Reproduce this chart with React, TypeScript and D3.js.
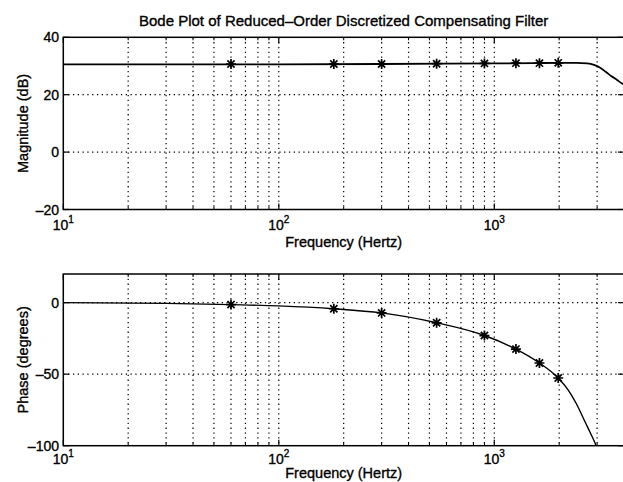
import React from 'react';
import * as d3 from 'd3';

const titleText = 'Bode Plot of Reduced–Order Discretized Compensating Filter';
const xLabelText = 'Frequency (Hertz)';
const magLabelText = 'Magnitude (dB)';
const phaseLabelText = 'Phase (degrees)';

const xDomain = [10, 4000];
const xMajorTicks = [10, 100, 1000];
const xTickExponents = ['1', '2', '3'];
const xMinorTicks = [20, 30, 40, 50, 60, 70, 80, 90, 200, 300, 400, 500, 600, 700, 800, 900, 2000, 3000];

const magDomain = [-20, 40];
const magTicks = [-20, 0, 20, 40];
const phaseDomain = [-100, 20];
const phaseTicks = [-100, -50, 0];

const magFreq = [10, 100, 300, 600, 1000, 1500, 2000, 2400, 2700, 2900, 3100, 3300, 3500, 3700, 3900, 4000];
const magDb = [30.6, 30.6, 30.7, 30.8, 30.9, 31.0, 31.1, 31.1, 30.9, 30.4, 29.4, 27.9, 26.4, 25.2, 24.0, 23.6];

const phaseFreq = [10, 30, 60, 100, 180, 300, 540, 900, 1260, 1620, 1980, 2200, 2400, 2650, 2800, 2950, 3050];
const phaseDeg = [0, -0.5, -1.4, -2.3, -4.3, -7.2, -14.1, -23.0, -32.5, -42.2, -52.7, -61.0, -70.5, -84.0, -91.5, -99.0, -105.0];

const markerFreq = [60, 180, 300, 540, 900, 1260, 1620, 1980];
const markerMag = [30.7, 30.7, 30.7, 30.8, 30.9, 31.0, 31.0, 31.1];
const markerPhase = [-1.4, -4.3, -7.2, -14.1, -23.0, -32.5, -42.2, -52.7];

const W = 623;
const H = 482;
const left = 63.3;
const decade = 215.5;
const FONT = '"Liberation Sans", Arial, Helvetica, sans-serif';
const TS = 0.35;

const x = d3.scaleLog().domain(xDomain).range([left, left + decade * Math.log10(xDomain[1] / xDomain[0])]);

function Star({ cx, cy }: { cx: number; cy: number }) {
  const r = 5;
  const d = r * 0.72;
  return (
    <path
      d={`M${cx - r},${cy}L${cx + r},${cy}M${cx},${cy - r}L${cx},${cy + r}M${cx - d},${cy - d}L${cx + d},${cy + d}M${cx - d},${cy + d}L${cx + d},${cy - d}`}
      stroke="#000"
      strokeWidth={1.7}
      fill="none"
    />
  );
}

function Panel({
  id, top, bottom, domain, ticks, freq, vals, mFreq, mVals, yLabel, curveW, xTickY, xLabelY,
}: {
  id: string; top: number; bottom: number; domain: number[]; ticks: number[];
  freq: number[]; vals: number[]; mFreq: number[]; mVals: number[]; yLabel: string; curveW: number;
  xTickY: number; xLabelY: number;
}) {
  const y = d3.scaleLinear().domain(domain).range([bottom, top]);
  const [x0, x1] = x.range();
  const pts = freq.map((f, i) => [f, vals[i]] as [number, number]);
  const line = d3.line<[number, number]>().x(d => x(d[0])).y(d => y(d[1])).curve(d3.curveMonotoneX);
  const gridX = [...xMajorTicks.slice(1), ...xMinorTicks];
  const gridY = ticks.filter(t => t > domain[0] && t < domain[1]);
  const majLen = 6;
  const minLen = 3;
  return (
    <g>
      <defs>
        <clipPath id={`clip-${id}`}>
          <rect x={x0} y={top} width={x1 - x0} height={bottom - top} />
        </clipPath>
      </defs>
      {gridX.map(f => (
        <line key={`gx${f}`} x1={x(f)} x2={x(f)} y1={top} y2={bottom} stroke="#000" strokeWidth={1.2} strokeDasharray="1.3,3.5" />
      ))}
      {gridY.map(v => (
        <line key={`gy${v}`} x1={x0} x2={x1} y1={y(v)} y2={y(v)} stroke="#000" strokeWidth={1.2} strokeDasharray="1.3,3.5" />
      ))}
      {xMajorTicks.map(f => (
        <g key={`tx${f}`}>
          <line x1={x(f)} x2={x(f)} y1={bottom} y2={bottom - majLen} stroke="#000" strokeWidth={1.2} />
          <line x1={x(f)} x2={x(f)} y1={top} y2={top + majLen} stroke="#000" strokeWidth={1.2} />
        </g>
      ))}
      {xMinorTicks.map(f => (
        <g key={`mx${f}`}>
          <line x1={x(f)} x2={x(f)} y1={bottom} y2={bottom - minLen} stroke="#000" strokeWidth={1} />
          <line x1={x(f)} x2={x(f)} y1={top} y2={top + minLen} stroke="#000" strokeWidth={1} />
        </g>
      ))}
      {ticks.map(v => (
        <g key={`ty${v}`}>
          <line x1={x0} x2={x0 + majLen} y1={y(v)} y2={y(v)} stroke="#000" strokeWidth={1.2} />
          <line x1={x1} x2={x1 - majLen} y1={y(v)} y2={y(v)} stroke="#000" strokeWidth={1.2} />
          <text x={59} y={y(v)} dy="0.36em" textAnchor="end" fontSize={14} fontFamily={FONT} fill="#000" stroke="#000" strokeWidth={TS}>
            {v < 0 ? `–${Math.abs(v)}` : `${v}`}
          </text>
        </g>
      ))}
      {xMajorTicks.map((f, i) => (
        <text key={`lx${f}`} x={x(f)} y={xTickY} textAnchor="middle" fontSize={14} fontFamily={FONT} fill="#000" stroke="#000" strokeWidth={TS}>
          10<tspan fontSize={10} dy={-6.5}>{xTickExponents[i]}</tspan>
        </text>
      ))}
      <g clipPath={`url(#clip-${id})`}>
        <path d={line(pts) || ''} fill="none" stroke="#000" strokeWidth={curveW} />
        {mFreq.map((f, i) => (
          <Star key={`m${f}`} cx={x(f)} cy={y(mVals[i])} />
        ))}
      </g>
      <rect x={x0} y={top} width={x1 - x0} height={bottom - top} fill="none" stroke="#000" strokeWidth={1.5} />
      <text
        transform={`translate(27.5,${(top + bottom) / 2}) rotate(-90)`}
        textAnchor="middle"
        fontSize={14.5}
        fontFamily={FONT}
        fill="#000"
        stroke="#000"
        strokeWidth={TS}
      >
        {yLabel}
      </text>
      <text x={(x0 + x1) / 2} y={xLabelY} textAnchor="middle" fontSize={14.5} fontFamily={FONT} fill="#000" stroke="#000" strokeWidth={TS}>
        {xLabelText}
      </text>
    </g>
  );
}

export default function App() {
  const [x0, x1] = x.range();
  return (
    <svg
      width={W}
      height={H}
      viewBox={`0 0 ${W} ${H}`}
      style={{ position: 'absolute', left: 0, top: 0, background: '#fff' }}
    >
      <rect x={0} y={0} width={W} height={H} fill="#fff" />
      <text x={(x0 + x1) / 2} y={25.5} textAnchor="middle" fontSize={15} fontFamily={FONT} fill="#000" stroke="#000" strokeWidth={TS}>
        {titleText}
      </text>
      <Panel
        id="mag" top={37.3} bottom={209.5} domain={magDomain} ticks={magTicks}
        freq={magFreq} vals={magDb} mFreq={markerFreq} mVals={markerMag} yLabel={magLabelText} curveW={1.8}
        xTickY={229.5} xLabelY={246.5}
      />
      <Panel
        id="phase" top={274} bottom={445.7} domain={phaseDomain} ticks={phaseTicks}
        freq={phaseFreq} vals={phaseDeg} mFreq={markerFreq} mVals={markerPhase} yLabel={phaseLabelText} curveW={1.4}
        xTickY={463.5} xLabelY={478}
      />
    </svg>
  );
}
